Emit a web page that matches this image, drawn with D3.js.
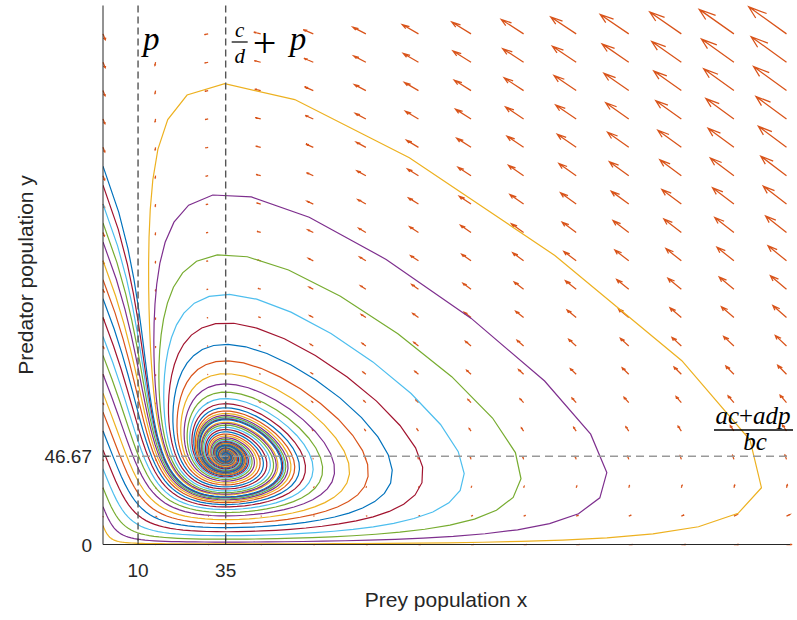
<!DOCTYPE html>
<html><head><meta charset="utf-8">
<script src="https://cdn.jsdelivr.net/npm/d3@7"></script>
<style>body{margin:0;background:#fff}</style>
</head><body>
<svg id="chart" width="797" height="620"></svg>
<script>
// ---- model parameters (prey with refuge p) ----
// dx/dt = a x - b (x - p) y ;  dy/dt = -c y + d (x - p) y
const paramA = 1;
const paramB = 0.03;
const paramC = 1;
const paramD = 0.04;
const paramP = 10;

// ---- initial conditions of the trajectories ----
const initialPrey     = [0,0,0,0,0,0,0,0,0,0,0,0,0,0,0,0,0,0,0,0];
const initialPredator = [10,20,30,40,50,60,70,80,90,100,110,120,130,140,150,160,170,180,190,200];
const timeEnd = 40;

// ---- direction-field grid ----
const quiverX = [0,15,30,45,60,75,90,105,120,135,150,165,180,195];
const quiverY = [0,15,30,45,60,75,90,105,120,135,150,165,180,195,210,225,240,255,270];

// ---- ticks ----
const xTickValues = [10, 35];
const xTickLabels = ["10", "35"];
const yTickValues = [0, 46.67];
const yTickLabels = ["0", "46.67"];

const colorOrder = ["#0072BD","#D95319","#EDB120","#7E2F8E","#77AC30","#4DBEEE","#A2142F"];

const svg = d3.select("#chart");
const x = d3.scaleLinear().domain([0, 196]).range([103, 790]);
const y = d3.scaleLinear().domain([0, 285]).range([544.5, 5.5]);
const sans = "'Liberation Sans', Arial, Helvetica, sans-serif";
const serif = "'Liberation Serif', 'Times New Roman', serif";

function field(px, py) {
  return [paramA*px - paramB*(px - paramP)*py, -paramC*py + paramD*(px - paramP)*py];
}

svg.append("defs").append("clipPath").attr("id","clip")
  .append("rect").attr("x", x(0)).attr("y", y(285)).attr("width", x(196)-x(0)).attr("height", y(0)-y(285));

// ---- quiver (MATLAB style autoscale) ----
const grid = [];
quiverY.forEach(gy => quiverX.forEach(gx => {
  const [u, v] = field(gx, gy);
  grid.push({gx, gy, u, v});
}));
const n = quiverX.length, m = quiverY.length;
const delx = (d3.max(quiverX) - d3.min(quiverX)) / n;
const dely = (d3.max(quiverY) - d3.min(quiverY)) / m;
const del = delx*delx + dely*dely;
const maxlen = d3.max(grid, g => Math.sqrt((g.u*g.u + g.v*g.v)/del));
const qscale = 0.9 / maxlen;
const alpha = 0.33, beta = 0.33;
const qg = svg.append("g").attr("stroke", "#D95319").attr("stroke-width", 1.25).attr("fill","none");
grid.forEach(g => {
  const u = g.u*qscale, v = g.v*qscale;
  const tx = g.gx + u, ty = g.gy + v;
  qg.append("path").attr("d",
    `M${x(g.gx)},${y(g.gy)}L${x(tx)},${y(ty)}` +
    `M${x(tx - alpha*(u + beta*v))},${y(ty - alpha*(v - beta*u))}L${x(tx)},${y(ty)}` +
    `L${x(tx - alpha*(u - beta*v))},${y(ty - alpha*(v + beta*u))}`);
});

// ---- trajectories (RK4 integration) ----
function integrate(x0, y0) {
  const dt = 0.004, outEvery = 25;
  let s = [x0, y0];
  const pts = [s.slice()];
  const steps = Math.round(timeEnd/dt);
  for (let i = 1; i <= steps; i++) {
    const k1 = field(s[0], s[1]);
    const k2 = field(s[0]+dt/2*k1[0], s[1]+dt/2*k1[1]);
    const k3 = field(s[0]+dt/2*k2[0], s[1]+dt/2*k2[1]);
    const k4 = field(s[0]+dt*k3[0], s[1]+dt*k3[1]);
    s = [s[0] + dt/6*(k1[0]+2*k2[0]+2*k3[0]+k4[0]), s[1] + dt/6*(k1[1]+2*k2[1]+2*k3[1]+k4[1])];
    if (i % outEvery === 0) pts.push(s.slice());
  }
  return pts;
}
const line = d3.line().x(d => x(d[0])).y(d => y(d[1]));
const tg = svg.append("g").attr("clip-path","url(#clip)").attr("fill","none").attr("stroke-width",1.2);
initialPredator.forEach((y0, i) => {
  tg.append("path").attr("d", line(integrate(initialPrey[i], y0)))
    .attr("stroke", colorOrder[(i + 2) % 7]);
});

// ---- reference dashed lines ----
svg.append("line").attr("x1", x(0)).attr("x2", x(196)).attr("y1", y(46.67)).attr("y2", y(46.67))
  .attr("stroke", "#999").attr("stroke-width", 1.4).attr("stroke-dasharray", "8,5");
[paramP, paramC/paramD + paramP].forEach(v => {
  svg.append("line").attr("x1", x(v)).attr("x2", x(v)).attr("y1", y(285)).attr("y2", y(0))
    .attr("stroke", "#555").attr("stroke-width", 1.4).attr("stroke-dasharray", "7,4");
});

// ---- axes ----
const axisColor = "#262626";
svg.append("line").attr("x1", x(0)).attr("x2", x(0)).attr("y1", y(285)).attr("y2", y(0)).attr("stroke", axisColor).attr("stroke-width", 1);
svg.append("line").attr("x1", x(0)).attr("x2", x(196)).attr("y1", y(0)).attr("y2", y(0)).attr("stroke", axisColor).attr("stroke-width", 1);
xTickValues.forEach((v, i) => {
  svg.append("line").attr("x1", x(v)).attr("x2", x(v)).attr("y1", y(0)).attr("y2", y(0)-6).attr("stroke", axisColor);
  svg.append("text").attr("x", x(v)).attr("y", 577).attr("text-anchor","middle")
    .attr("font-family", sans).attr("font-size", 19).attr("fill", axisColor).text(xTickLabels[i]);
});
yTickValues.forEach((v, i) => {
  svg.append("line").attr("x1", x(0)).attr("x2", x(0)+6).attr("y1", y(v)).attr("y2", y(v)).attr("stroke", axisColor);
  svg.append("text").attr("x", 92).attr("y", y(v) + 7).attr("text-anchor","end")
    .attr("font-family", sans).attr("font-size", 19).attr("fill", axisColor).text(yTickLabels[i]);
});
svg.append("text").attr("x", 446).attr("y", 607).attr("text-anchor","middle")
  .attr("font-family", sans).attr("font-size", 21).attr("fill", axisColor).text("Prey population x");
svg.append("text").attr("transform","translate(33,275) rotate(-90)").attr("text-anchor","middle")
  .attr("font-family", sans).attr("font-size", 21).attr("fill", axisColor).text("Predator population y");

// ---- math labels ----
function mtext(tx, ty, size, str, italic, anchor) {
  return svg.append("text").attr("x", tx).attr("y", ty).attr("font-family", serif).attr("font-size", size)
    .attr("font-style", italic ? "italic" : "normal").attr("text-anchor", anchor || "start").attr("fill","#000").text(str);
}
mtext(x(paramP) + 5, 50, 33, "p", true);
const cx = x(paramC/paramD + paramP) + 14;
mtext(cx, 37, 21, "c", true, "middle");
svg.append("line").attr("x1", cx - 8).attr("x2", cx + 8).attr("y1", 42).attr("y2", 42).attr("stroke","#000").attr("stroke-width", 1.2);
mtext(cx, 63, 21, "d", true, "middle");
mtext(cx + 13, 57, 42, "+", false);
mtext(cx + 50, 50, 33, "p", true);

const fx = 753;
const num = svg.append("text").attr("x", fx).attr("y", 424).attr("text-anchor","middle")
  .attr("font-family", serif).attr("font-size", 25).attr("fill","#000");
num.append("tspan").attr("font-style","italic").text("ac");
num.append("tspan").text("+");
num.append("tspan").attr("font-style","italic").text("adp");
svg.append("line").attr("x1", 714).attr("x2", 793).attr("y1", 430).attr("y2", 430).attr("stroke","#000").attr("stroke-width", 1.5);
mtext(fx + 2, 450, 25, "bc", true, "middle");
</script>
</body></html>
